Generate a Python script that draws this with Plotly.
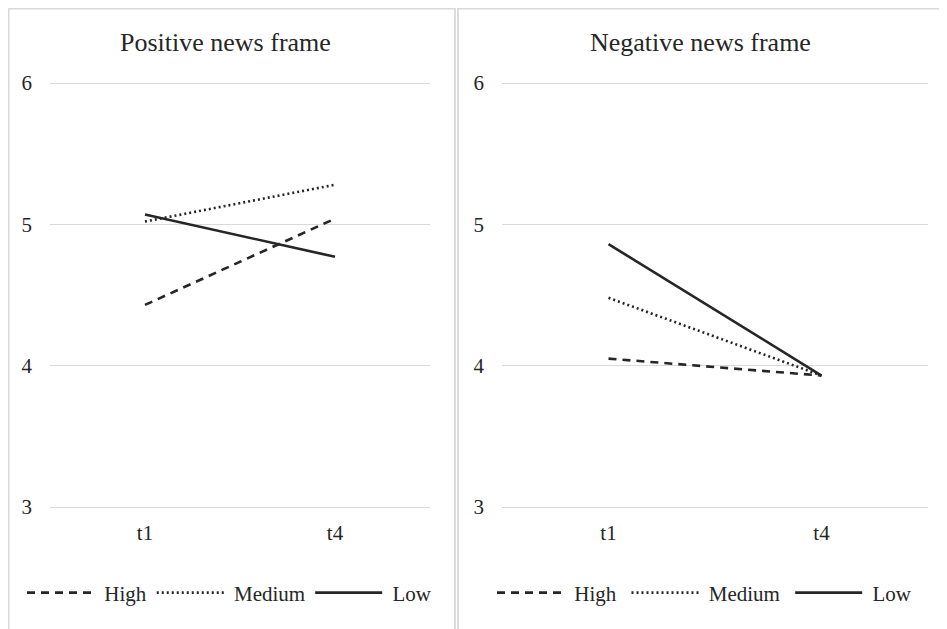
import plotly.graph_objects as go

categories = ["t1", "t4"]
series_names = ["High", "Medium", "Low"]
pos_high = [4.43, 5.04]
pos_medium = [5.02, 5.28]
pos_low = [5.07, 4.77]
neg_high = [4.05, 3.93]
neg_medium = [4.48, 3.93]
neg_low = [4.86, 3.93]
y_ticks = [3, 4, 5, 6]
panel_titles = ["Positive news frame", "Negative news frame"]

OFF = 8  # page body margin
W, H = 947 - OFF, 629 - OFF
FONT = "Liberation Serif"
INK = "#262626"
GRID = "#d9d9d9"
NB = "\u00a0"
dashes = {"High": "8px,6px", "Medium": "2px,3px", "Low": "solid"}

fig = go.Figure()
panels = [
    ([pos_high, pos_medium, pos_low], "x", "y", "legend", NB, ""),
    ([neg_high, neg_medium, neg_low], "x2", "y2", "legend2", NB, NB),
]
for vals, xa, ya, lg, lead, trail in panels:
    for name, v in zip(series_names, vals):
        fig.add_trace(go.Scatter(
            x=categories, y=v, name=lead + name + trail, mode="lines",
            line=dict(color=INK, width=2.6, dash=dashes[name]),
            xaxis=xa, yaxis=ya, legend=lg, showlegend=True,
        ))

def px_x(p):
    return (p - OFF) / W

def px_y(p):
    return 1 - (p - OFF) / H

pad = 0.03
unit = (507 - 83) / 3.0
ydom = [px_y(507 + pad * unit), px_y(83 - pad * unit)]
axis_font = dict(family=FONT, size=21, color=INK)
xcommon = dict(type="category", categoryorder="array", categoryarray=categories,
               range=[-0.5, 1.5], showgrid=False, showline=False, zeroline=False,
               ticks="", tickfont=axis_font, ticklabelstandoff=7, fixedrange=True,
               automargin=False)
ycommon = dict(range=[3 - pad, 6 + pad], tickvals=y_ticks, showgrid=True, gridcolor=GRID,
               gridwidth=1.3, zeroline=False, showline=False, ticks="",
               tickfont=axis_font, ticklabelstandoff=17, domain=ydom, fixedrange=True,
               automargin=False)

legend_common = dict(orientation="h", yanchor="middle", xanchor="left",
                     font=dict(family=FONT, size=21, color=INK), bgcolor="rgba(0,0,0,0)",
                     itemwidth=67, tracegroupgap=0)

fig.update_layout(
    template="none",
    width=W, height=H,
    margin=dict(l=0, r=0, t=0, b=0, pad=0, autoexpand=False),
    paper_bgcolor="white", plot_bgcolor="white",
    font=dict(family=FONT, color=INK),
    xaxis=dict(domain=[px_x(50), px_x(430)], anchor="y", **xcommon),
    yaxis=dict(anchor="x", **ycommon),
    xaxis2=dict(domain=[px_x(502), px_x(928)], anchor="y2", **xcommon),
    yaxis2=dict(anchor="x2", **ycommon),
    legend=dict(x=px_x(14 + OFF), y=px_y(593), **legend_common),
    legend2=dict(x=px_x(484 + OFF), y=px_y(593), **legend_common),
    showlegend=True,
)

# panel frames
fig.add_shape(type="rect", xref="paper", yref="paper",
              x0=0.6 / W, x1=px_x(455), y0=-0.05, y1=1 - 0.6 / H,
              line=dict(color=GRID, width=1.8), layer="below")
fig.add_shape(type="rect", xref="paper", yref="paper",
              x0=px_x(458), x1=1.05, y0=-0.05, y1=1 - 0.6 / H,
              line=dict(color=GRID, width=1.8), layer="below")

# panel titles
for title, cx in zip(panel_titles, [225, 700]):
    fig.add_annotation(text=title, xref="paper", yref="paper", x=px_x(cx), y=px_y(42),
                       xanchor="center", yanchor="middle", showarrow=False,
                       font=dict(family=FONT, size=26, color=INK))

fig.write_html("out.html", config={"responsive": False})
